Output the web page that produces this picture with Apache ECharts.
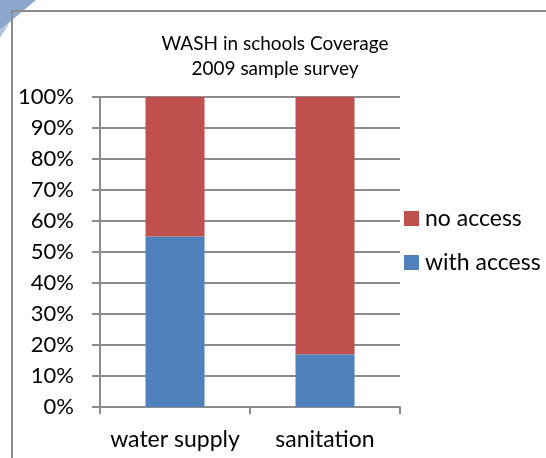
<!DOCTYPE html>
<html>
<head>
<meta charset="utf-8">
<script src="https://cdn.jsdelivr.net/npm/echarts@6/dist/echarts.min.js"></script>
<style>
html,body{margin:0;padding:0;background:#fff;}
#chart{width:546px;height:458px;}
</style>
</head>
<body>
<div id="chart"></div>
<script>
// Categories and shares (percent of schools)
const categories = ['water supply', 'sanitation'];
const withAccess = [55, 17];
const noAccess = [45, 83];
const yTicks = [0, 10, 20, 30, 40, 50, 60, 70, 80, 90, 100];

const FONT = 'Lato, "Open Sans", sans-serif';
const chart = echarts.init(document.getElementById('chart'), null, {renderer: 'canvas'});

chart.setOption({
  backgroundColor: '#fff',
  animation: false,
  title: {
    text: 'WASH in schools Coverage\n2009 sample survey',
    left: 270,
    textAlign: 'center',
    top: 26,
    textStyle: {fontFamily: FONT, fontSize: 19, fontWeight: 'normal', color: '#000', lineHeight: 25}
  },
  legend: {
    orient: 'vertical',
    left: 399,
    top: 202,
    itemGap: 21,
    itemWidth: 15,
    itemHeight: 15,
    icon: 'rect',
    data: ['no access', 'with access'],
    textStyle: {fontFamily: FONT, fontSize: 23, color: '#000', padding: [0, 0, 0, 1]}
  },
  grid: {left: 100, top: 97, width: 300, height: 310, containLabel: false},
  xAxis: {
    type: 'category',
    data: categories,
    axisLine: {show: true, lineStyle: {color: '#8c8c8c', width: 2}},
    axisTick: {show: true, length: 7, alignWithLabel: false, lineStyle: {color: '#8c8c8c', width: 2}},
    axisLabel: {fontFamily: FONT, fontSize: 23, color: '#000', margin: 21, interval: 0, hideOverlap: false}
  },
  yAxis: {
    type: 'value',
    min: 0,
    max: 100,
    interval: 10,
    axisLine: {show: true, lineStyle: {color: '#8c8c8c', width: 2}},
    axisTick: {show: true, length: 8, inside: false, lineStyle: {color: '#8c8c8c', width: 2}},
    axisLabel: {
      fontFamily: FONT, fontSize: 22, color: '#000', margin: 26,
      formatter: v => yTicks.includes(v) ? v + '%' : ''
    },
    splitLine: {show: true, lineStyle: {color: '#8c8c8c', width: 2}}
  },
  series: [
    {
      name: 'with access', type: 'bar', stack: 'share', data: withAccess,
      barWidth: 59, itemStyle: {color: '#4F81BD'}
    },
    {
      name: 'no access', type: 'bar', stack: 'share', data: noAccess,
      barWidth: 59, itemStyle: {color: '#C0504D'}
    }
  ],
  graphic: [
    // folded page corner behind the frame
    {
      type: 'polygon', z: -10,
      shape: {points: [[0, 0], [36, 0], [0, 30]]},
      style: {fill: '#8da6cc'}
    },
    {
      type: 'polygon', z: -10,
      shape: {points: [[0, 30], [10, 22], [0, 38]]},
      style: {fill: '#b3c3dc'}
    },
    // chart frame
    {
      type: 'rect', z: 100, silent: true,
      shape: {x: 12, y: 11, width: 600, height: 500},
      style: {fill: 'none', stroke: '#8c8c8c', lineWidth: 2}
    }
  ]
});
</script>
</body>
</html>
